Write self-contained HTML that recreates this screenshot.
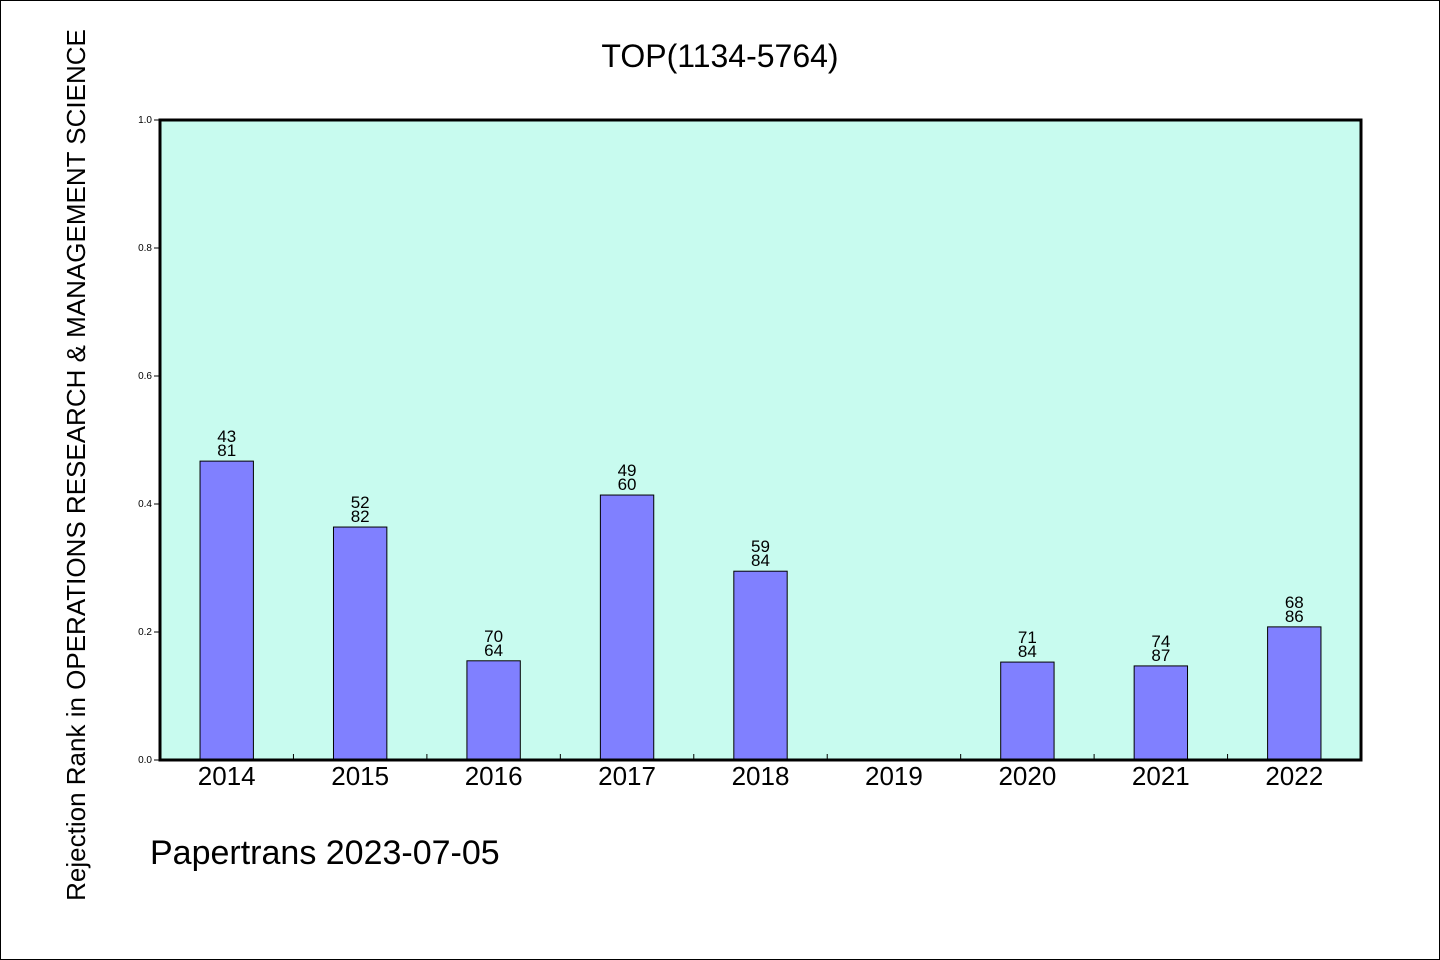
<!DOCTYPE html>
<html><head><meta charset="utf-8"><style>
html,body{margin:0;padding:0;background:#fff}
svg{display:block}
text{font-family:"WenQuanYi Zen Hei","Liberation Sans",sans-serif;fill:#000}
</style></head><body>
<svg id="chart" width="1440" height="960">
<rect x="0.5" y="0.5" width="1439" height="959" fill="#fff" stroke="#000"/>
<text x="720" y="67" font-size="32" text-anchor="middle">TOP(1134-5764)</text>
<rect x="160" y="120" width="1201" height="640" fill="#c8fbef"/>
<g id="bars"></g>
<g id="ticks"></g>
<rect x="160" y="120" width="1201" height="640" fill="none" stroke="#000" stroke-width="3"/>
<text transform="translate(85,465) rotate(-90)" font-size="26" text-anchor="middle">Rejection Rank in OPERATIONS RESEARCH &amp; MANAGEMENT SCIENCE</text>
<text x="150" y="864" font-size="34">Papertrans 2023-07-05</text>
</svg>
<script>
const categories=["2014","2015","2016","2017","2018","2019","2020","2021","2022"];
const values=[0.467,0.364,0.155,0.414,0.295,0,0.153,0.147,0.208];
const labelTop=["43","52","70","49","59","","71","74","68"];
const labelBottom=["81","82","64","60","84","","84","87","86"];
const yTicks=[0,0.2,0.4,0.6,0.8,1.0];
const yTickLabels=["0.0","0.2","0.4","0.6","0.8","1.0"];
const NS="http://www.w3.org/2000/svg";
const X0=160,X1=1361,Y0=760,Y1=120;
const band=(X1-X0)/categories.length;
const xc=i=>X0+band*(i+0.5);
const y=v=>Y0-(v)*(Y0-Y1);
function mk(t,a){const e=document.createElementNS(NS,t);for(const k in a)e.setAttribute(k,a[k]);return e;}
const gb=document.getElementById('bars'),gt=document.getElementById('ticks');
categories.forEach((c,i)=>{
  const v=values[i];
  if(v>0){
    const r=mk('rect',{x:xc(i)-band*0.2,y:y(v),width:band*0.4,height:Y0-y(v),fill:'#8080ff',stroke:'#000','stroke-width':1});
    
    
    gb.appendChild(r);
    const t1=mk('text',{x:xc(i),y:y(v)-19,'font-size':17,'text-anchor':'middle'});t1.textContent=labelTop[i];
    
    
    gb.appendChild(t1);
    const t2=mk('text',{x:xc(i),y:y(v)-5,'font-size':17,'text-anchor':'middle'});t2.textContent=labelBottom[i];
    
    
    gb.appendChild(t2);
  }
  const xl=mk('text',{x:xc(i),y:785,'font-size':26,'text-anchor':'middle'});xl.textContent=c;
  
  
  gt.appendChild(xl);
  if(i>0){
    const tk=mk('line',{x1:X0+band*i,x2:X0+band*i,y1:Y0,y2:Y0-6,stroke:'#000','stroke-width':1});
    
    
    gt.appendChild(tk);
  }
});
yTicks.forEach((v,i)=>{
  const l=mk('line',{x1:X0-6,x2:X0,y1:y(v),y2:y(v),stroke:'#000','stroke-width':1});
  
  
  gt.appendChild(l);
  const t=mk('text',{x:X0-8,y:y(v)+3,'font-size':10,'text-anchor':'end'});t.textContent=yTickLabels[i];
  
  
  gt.appendChild(t);
});
</script>
</body></html>
